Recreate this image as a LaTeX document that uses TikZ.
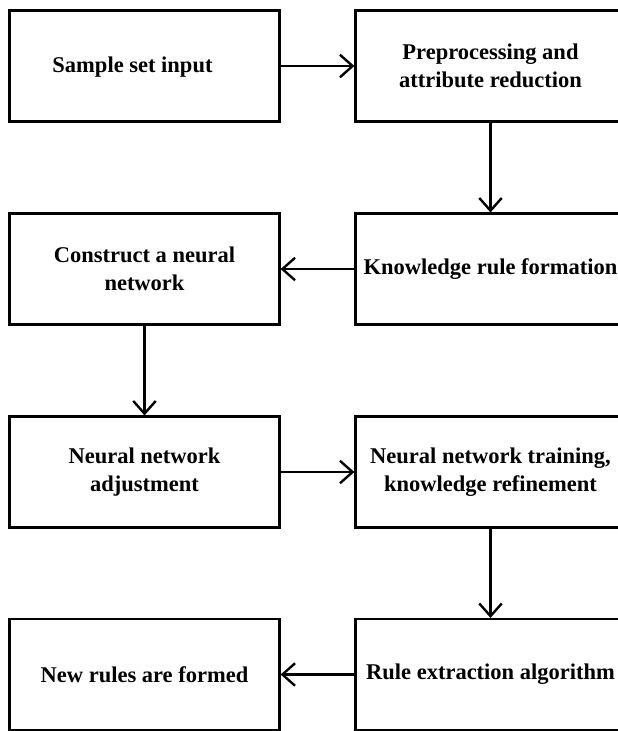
\documentclass[tikz,border=0pt]{standalone}
\usepackage{fontspec}
\setmainfont{Liberation Serif}
\usepackage{tikz}
\usetikzlibrary{arrows.meta,calc}

\tikzset{
  blk/.style={draw, line width=1.5pt, minimum width=6.75cm, minimum height=2.775cm,
    align=center, font=\fontsize{16}{19.5}\selectfont\bfseries, inner sep=0pt},
  flow/.style={draw, line width=1.7pt, -{Straight Barb[length=9pt,width=16pt]}}
}

\begin{document}
\begin{tikzpicture}[x=0.025cm, y=-0.025cm]
            \clip (0,0) rectangle (618,731);
            
            % Row 1
            \node[blk] (input) at (144.5,66) {};
            \node[font=\fontsize{16}{19.5}\selectfont\bfseries] (inputtxt) at ($(input)+(-12,1)$) {Sample set input};
            \node[blk] (prep) at (490.5,66) {Preprocessing and\\attribute reduction};
            
            % Row 2
            \node[blk] (construct) at (144.5,269) {Construct a neural\\network};
            \node[blk] (rules) at (490.5,269) {Knowledge rule formation};
            
            % Row 3
            \node[blk] (adjust) at (144.5,472) {Neural network\\adjustment};
            \node[blk] (train) at (490.5,472) {Neural network training,\\knowledge refinement};
            
            % Row 4
            \node[blk] (newrules) at (144.5,674.5) {New rules are formed};
            \node[blk] (extract) at (490.5,674.5) {Rule extraction algorithm};
            
            % Flow
            \draw[flow] (input) -- (prep);
            \draw[flow] (prep) -- (rules);
            \draw[flow] (rules) -- (construct);
            \draw[flow] (construct) -- (adjust);
            \draw[flow] (adjust) -- (train);
            \draw[flow] (train) -- (extract);
            \draw[flow] (extract) -- (newrules);
        \end{tikzpicture}
\end{document}
